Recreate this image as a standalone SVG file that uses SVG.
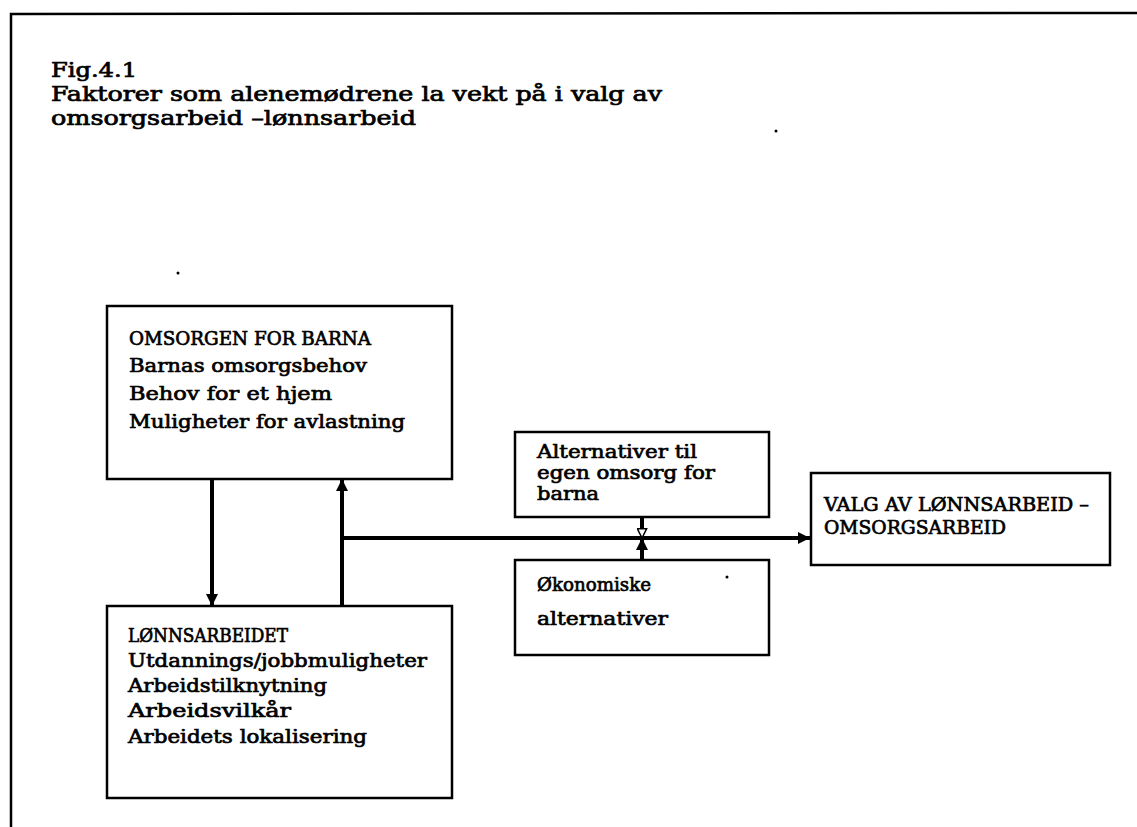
<svg xmlns="http://www.w3.org/2000/svg" width="1137" height="827" viewBox="0 0 1137 827">
<style>
.frame{fill:none;stroke:#000;stroke-width:2.5}
.box{fill:#fff;stroke:#000;stroke-width:2.5}
.t{font-family:"DejaVu Serif","Liberation Serif",serif;font-size:19px;fill:#000;stroke:#000;stroke-width:0.7}
.ti{font-family:"DejaVu Serif","Liberation Serif",serif;font-size:20px;fill:#000;stroke:#000;stroke-width:0.7}
.c{fill:none;stroke:#000;stroke-width:4}
.dot{fill:#000}
</style>
<defs>
<marker id="ah" viewBox="0 0 12 12" refX="12" refY="6" markerWidth="12" markerHeight="12" markerUnits="userSpaceOnUse" orient="auto">
<path d="M0,0 L12,6 L0,12 Z" fill="#000"/>
</marker>
<marker id="ho" viewBox="0 0 12 12" refX="11" refY="6" markerWidth="11" markerHeight="11" markerUnits="userSpaceOnUse" orient="auto">
<path d="M1,1 L11,6 L1,11 Z" fill="#fff" stroke="#000" stroke-width="1.6"/>
</marker>
</defs>
<rect width="1137" height="827" fill="#fff"/>
<path class="frame" d="M11,827 L11,14 L1137,13"/>
<g id="title">
<text class="ti" x="51" y="77" textLength="86" lengthAdjust="spacingAndGlyphs">Fig.4.1</text>
<text class="ti" x="51" y="101" textLength="611" lengthAdjust="spacingAndGlyphs">Faktorer som alenemødrene la vekt på i valg av</text>
<text class="ti" x="51" y="125" textLength="365" lengthAdjust="spacingAndGlyphs">omsorgsarbeid –lønnsarbeid</text>
</g>
<g id="connectors">
<line class="c" x1="212" y1="479" x2="212" y2="606" marker-end="url(#ah)"/>
<line class="c" x1="342" y1="606" x2="342" y2="479" marker-end="url(#ah)"/>
<line class="c" x1="342" y1="538" x2="810" y2="538" marker-end="url(#ah)"/>
<line class="c" x1="642" y1="517" x2="642" y2="538" marker-end="url(#ho)"/>
<line class="c" x1="642" y1="560" x2="642" y2="538" marker-end="url(#ah)"/>
</g>
<g id="omsorgen">
<rect class="box" x="107" y="306" width="345" height="173"/>
<text class="t" x="129" y="345" textLength="242" lengthAdjust="spacingAndGlyphs">OMSORGEN FOR BARNA</text>
<text class="t" x="129" y="372" textLength="238" lengthAdjust="spacingAndGlyphs">Barnas omsorgsbehov</text>
<text class="t" x="129" y="400" textLength="203" lengthAdjust="spacingAndGlyphs">Behov for et hjem</text>
<text class="t" x="129" y="428" textLength="276" lengthAdjust="spacingAndGlyphs">Muligheter for avlastning</text>
</g>
<g id="lonnsarbeidet">
<rect class="box" x="107" y="606" width="345" height="192"/>
<text class="t" x="128" y="642" textLength="160" lengthAdjust="spacingAndGlyphs">LØNNSARBEIDET</text>
<text class="t" x="128" y="667" textLength="299" lengthAdjust="spacingAndGlyphs">Utdannings/jobbmuligheter</text>
<text class="t" x="128" y="692" textLength="199" lengthAdjust="spacingAndGlyphs">Arbeidstilknytning</text>
<text class="t" x="128" y="717" textLength="163" lengthAdjust="spacingAndGlyphs">Arbeidsvilkår</text>
<text class="t" x="128" y="743" textLength="239" lengthAdjust="spacingAndGlyphs">Arbeidets lokalisering</text>
</g>
<g id="alternativer">
<rect class="box" x="515" y="432" width="254" height="85"/>
<text class="t" x="537" y="458" textLength="160" lengthAdjust="spacingAndGlyphs">Alternativer til</text>
<text class="t" x="537" y="479" textLength="178" lengthAdjust="spacingAndGlyphs">egen omsorg for</text>
<text class="t" x="537" y="500" textLength="62" lengthAdjust="spacingAndGlyphs">barna</text>
</g>
<g id="okonomiske">
<rect class="box" x="515" y="560" width="254" height="95"/>
<text class="t" x="537" y="591" textLength="114" lengthAdjust="spacingAndGlyphs">Økonomiske</text>
<text class="t" x="537" y="625" textLength="131" lengthAdjust="spacingAndGlyphs">alternativer</text>
</g>
<g id="valg">
<rect class="box" x="811" y="473" width="299" height="92"/>
<text class="t" x="824" y="511" textLength="265" lengthAdjust="spacingAndGlyphs">VALG AV LØNNSARBEID –</text>
<text class="t" x="824" y="534" textLength="182" lengthAdjust="spacingAndGlyphs">OMSORGSARBEID</text>
</g>
<circle class="dot" cx="178" cy="273" r="1.5"/>
<circle class="dot" cx="776" cy="131" r="1.5"/>
<circle class="dot" cx="727" cy="577" r="1.5"/>
</svg>
